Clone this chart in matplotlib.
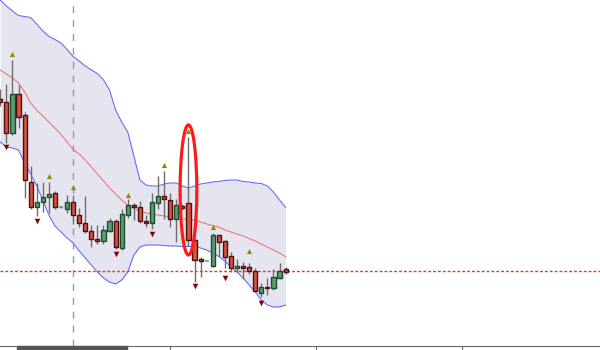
import matplotlib
matplotlib.use("Agg")
import matplotlib.pyplot as plt
from matplotlib.patches import Ellipse, Rectangle
import numpy as np

# свечи (цена)
opens = [125.13, 124.77, 121.67, 125.57, 123.47, 116.77, 114.27, 114.83, 115.27, 115.67,
         114.27, 114.07, 114.77, 113.47, 112.67, 111.87, 111.07, 110.87, 111.87, 112.87,
         110.17, 113.47, 114.47, 114.27, 112.87, 112.67, 114.67, 115.37, 114.97, 113.07,
         114.37, 114.67, 111.00, 109.07, 108.93, 108.40, 111.50, 110.87, 109.40, 108.17,
         108.40, 108.27, 107.93, 105.73, 106.30, 106.17, 107.17, 108.07]
highs = [126.10, 126.60, 129.00, 126.50, 123.83, 118.40, 116.70, 116.80, 116.80, 115.90,
         114.30, 115.50, 115.50, 114.20, 115.40, 112.50, 112.50, 112.47, 113.17, 113.07,
         114.07, 115.07, 114.70, 114.87, 113.47, 115.67, 117.37, 117.87, 115.67, 115.07,
         114.60, 121.33, 111.20, 109.33, 108.95, 111.70, 111.60, 111.00, 109.83, 109.07,
         108.83, 108.73, 108.20, 106.73, 107.17, 108.07, 108.67, 108.33]
lows = [124.40, 120.73, 121.53, 122.17, 115.23, 114.07, 113.40, 113.80, 113.70, 114.10,
        114.25, 113.70, 112.60, 112.27, 111.67, 110.27, 110.57, 110.57, 111.77, 110.07,
        110.05, 113.17, 112.97, 112.67, 112.27, 112.07, 114.07, 113.07, 112.27, 110.77,
        114.00, 110.40, 106.83, 107.33, 108.90, 108.35, 109.33, 108.17, 107.83, 107.83,
        107.07, 107.60, 105.80, 105.33, 105.50, 106.00, 107.07, 107.60]
closes = [124.77, 121.67, 125.57, 123.27, 117.00, 114.27, 114.77, 115.27, 115.60, 114.27,
          114.29, 114.77, 113.47, 112.67, 111.87, 111.07, 110.87, 111.97, 112.87, 110.27,
          113.57, 114.47, 114.35, 112.87, 112.67, 114.77, 115.37, 115.07, 113.07, 114.47,
          114.17, 111.00, 109.00, 108.93, 108.94, 111.50, 110.77, 109.33, 108.17, 108.40,
          108.17, 107.93, 105.93, 106.27, 106.23, 107.27, 107.93, 107.83]

# полосы Боллинджера
upper = [135.0, 134.4, 133.9, 133.45, 133.35, 133.25, 132.6, 131.9, 131.37, 131.05,
         130.7, 130.05, 129.35, 128.9, 128.4, 128.0, 127.65, 127.0, 126.0, 124.0,
         122.8, 121.8, 119.4, 117.0, 116.5, 116.4, 116.4, 116.6, 116.7, 116.7,
         116.4, 116.2, 116.4, 116.6, 116.7, 116.8, 116.85, 116.95, 117.0, 117.0,
         116.85, 116.8, 116.7, 116.65, 116.4, 115.8, 115.0, 114.27]
middle = [128.0, 127.6, 127.2, 126.7, 125.8, 124.7, 124.0, 123.4, 122.8, 122.2,
          121.55, 120.8, 120.05, 119.6, 119.0, 118.3, 117.6, 116.9, 116.2, 115.6,
          115.0, 114.45, 114.15, 113.9, 113.7, 113.6, 113.5, 113.4, 113.3, 113.2,
          113.1, 113.05, 113.0, 112.8, 112.6, 112.45, 112.3, 112.0, 111.8, 111.6,
          111.4, 111.15, 110.9, 110.6, 110.3, 110.0, 109.7, 109.33]
lower = [120.8, 120.3, 120.2, 120.0, 118.7, 117.6, 116.4, 115.0, 113.5, 112.4,
         111.8, 111.2, 110.7, 109.9, 109.2, 108.5, 107.8, 107.2, 106.8, 106.6,
         107.0, 107.8, 109.5, 110.3, 110.5, 110.5, 110.5, 110.45, 110.4, 110.4,
         110.35, 110.35, 110.35, 110.2, 110.0, 109.7, 109.35, 108.9, 108.3, 107.8,
         107.2, 106.5, 105.8, 105.0, 104.5, 104.3, 104.3, 104.5]

# фракталы
up_idx = [2, 8, 12, 21, 27, 31, 35, 41]
up_val = [129.6, 117.43, 116.33, 115.47, 118.53, 121.93, 112.33, 109.9]
down_idx = [1, 6, 19, 25, 32, 37, 43]
down_val = [120.27, 112.9, 109.57, 111.57, 106.4, 107.17, 104.73]

last_price = 107.95
marker_bar = 12
spike_bar = 31

fig = plt.figure(figsize=(6, 3.5), dpi=100)
ax = fig.add_axes([0, 4 / 350, 1, 346 / 350])

x = np.arange(len(opens))

# облако полос
ax.fill_between(x, lower, upper, color="#e5e5f0", lw=0, zorder=1)
ax.plot(x, upper, color="#6464ff", lw=0.75, zorder=2)
ax.plot(x, lower, color="#6464ff", lw=0.75, zorder=2)
ax.plot(x, middle, color="#f07070", lw=0.75, zorder=2)

ax.axvline(marker_bar, color="#999999", lw=1, ls=(0, (5, 5)), zorder=2)
ax.axhline(last_price, color="#ee3322", lw=1, ls=(0, (2, 1.5)), zorder=2)

# свечи
for i in x:
    o, h, l, c = opens[i], highs[i], lows[i], closes[i]
    ax.vlines(i, l, h, color="#6e6e6e", lw=1, zorder=3)
    if c >= o:
        face, edge = "#5c9c74", "#1f4a2e"
    else:
        face, edge = "#d9513f", "#4a1010"
    if abs(c - o) < 0.05:
        ax.hlines(o, i - 0.35, i + 0.35, color=face, lw=1.2, zorder=4)
    else:
        ax.bar(i, c - o, bottom=o, width=0.68, color=face, edgecolor=edge,
               lw=1, zorder=4)

ax.scatter(up_idx, up_val, marker="^", s=14, color="#8c8c00", zorder=5, lw=0)
ax.scatter(down_idx, down_val, marker="v", s=16, color="#8b0000", zorder=5, lw=0)

# выделение
ax.add_patch(Ellipse((spike_bar, 116.0), 2.75, 13.0, fill=False,
                     edgecolor="#ff1a1a", lw=2.3, zorder=6))

ax.set_xlim(-0.05, 98.8)
ax.set_ylim(100.4, 135)
for s in ["top", "left", "right"]:
    ax.spines[s].set_visible(False)
ax.spines["bottom"].set_color("#666666")
ax.set_xticks([4, 28, 52, 76])
ax.set_xticklabels([])
ax.set_yticks([])
ax.tick_params(axis="x", direction="out", length=3, color="#666666")

fig.patches.append(Rectangle((17 / 600, 0), 110 / 600, 4 / 350,
                             transform=fig.transFigure, color="#555555"))

fig.savefig("out.png", dpi=100)
